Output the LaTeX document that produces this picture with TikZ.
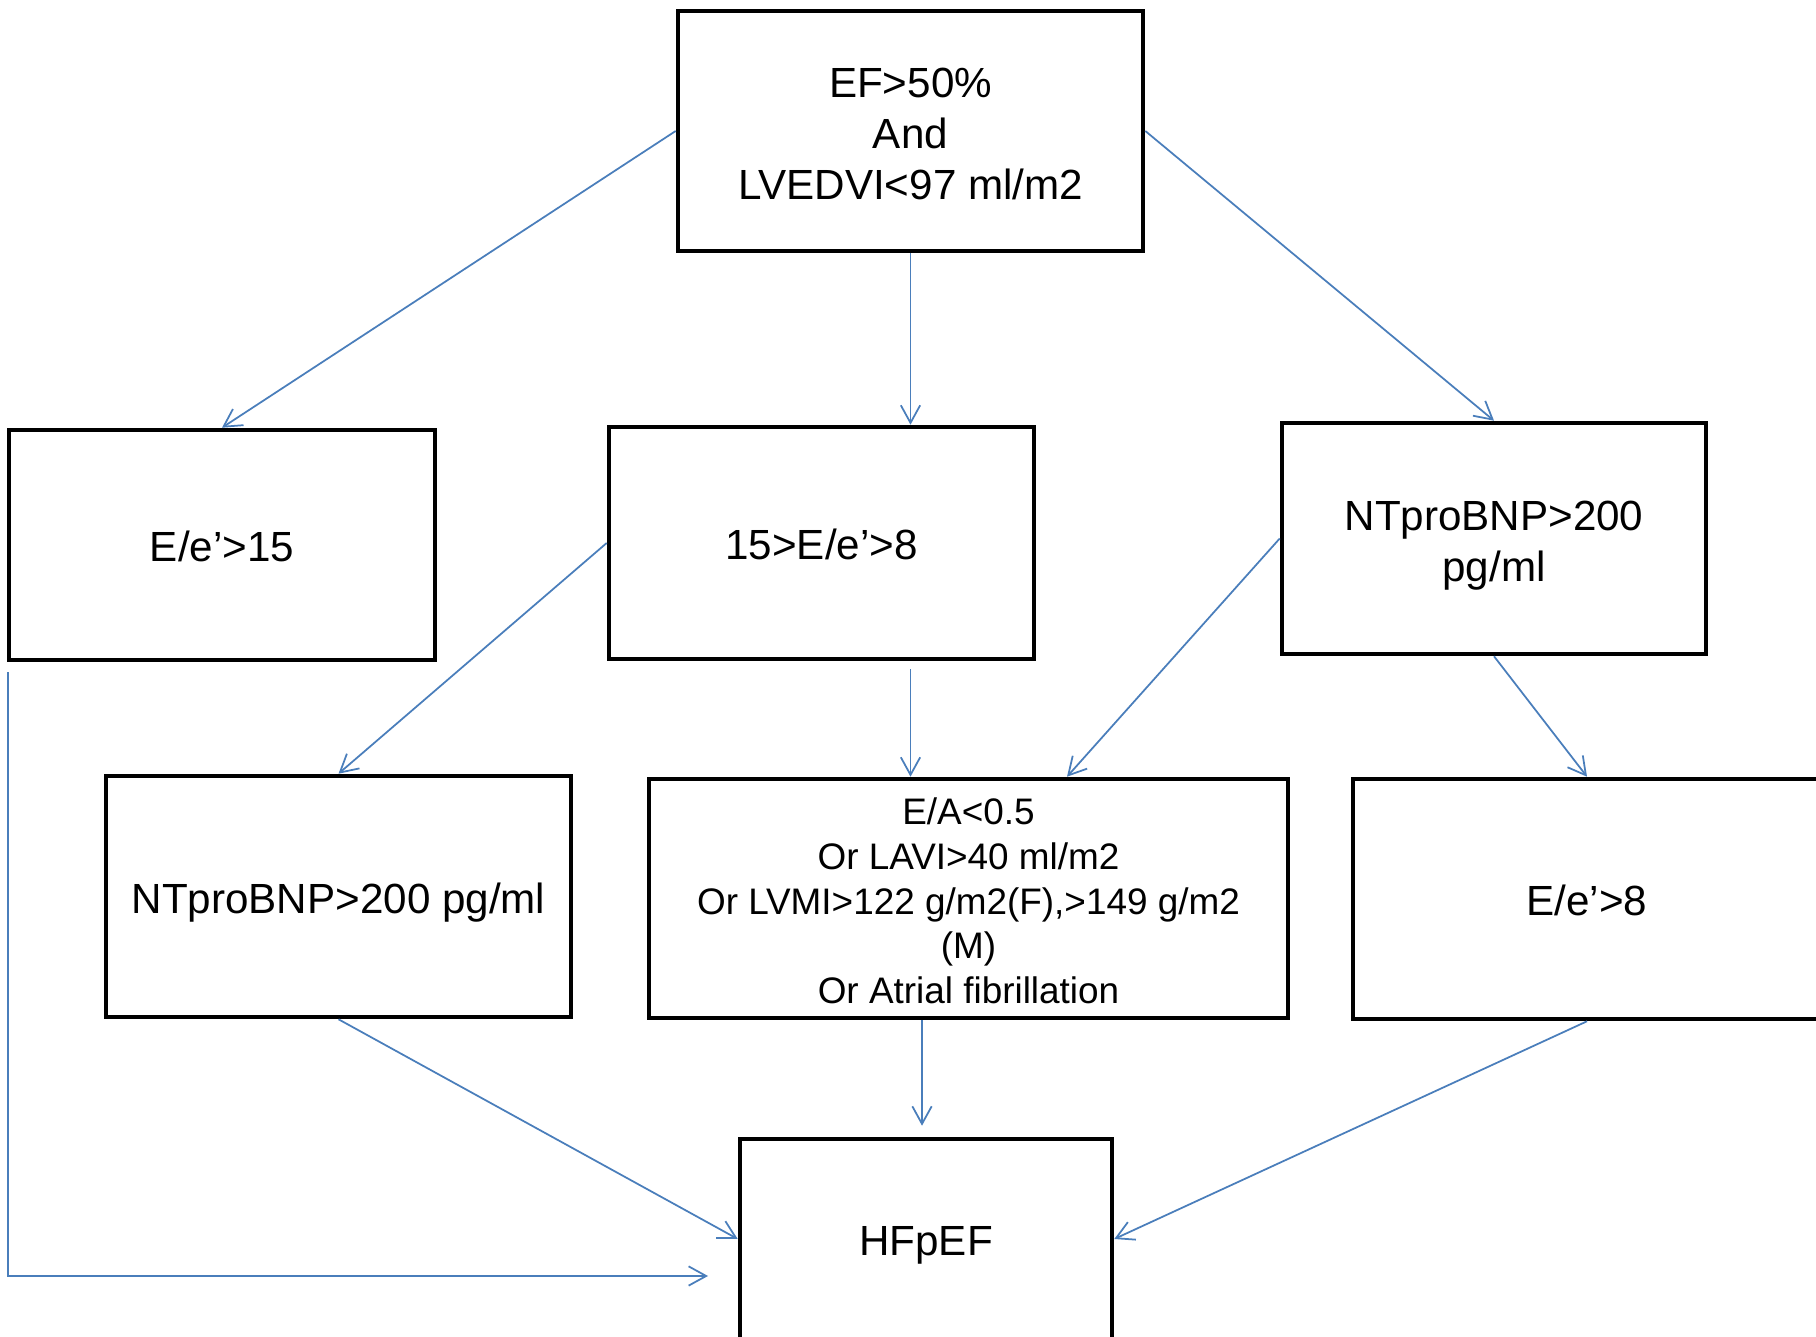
\documentclass[tikz,border=0pt]{standalone}
\usepackage{fontspec}
\setmainfont{Liberation Sans}
\usetikzlibrary{arrows.meta}
\definecolor{LinkBlue}{HTML}{4A7EBB}
\newcommand{\tallstrut}{\rule{0pt}{1.05em}}

\begin{document}
\begin{tikzpicture}[
  box/.style={draw,line width=1.3pt,align=center,inner sep=0pt,font=\fontsize{12}{14.5}\selectfont,
    execute at begin node=\rule{0pt}{1em},execute at end node=\rule[-.2em]{0pt}{0pt}},
  link/.style={LinkBlue,line width=.5pt,-{Straight Barb[length=5pt,width=5.5pt]}}]
\useasboundingbox (0,0) rectangle (18.16,13.37);
\node[box,minimum width=4.65cm,minimum height=2.4cm] (ef) at (9.105,12.06) {\tallstrut EF>50\%\\And\\LVEDVI<97 ml/m2};
\node[box,minimum width=4.26cm,minimum height=2.3cm] (e15) at (2.22,7.92) {E/e’>15};
\node[box,minimum width=4.25cm,minimum height=2.32cm] (mid) at (8.215,7.94) {15>E/e’>8};
\node[box,minimum width=4.24cm,minimum height=2.31cm] (ntr) at (14.94,7.985) {\tallstrut NTproBNP>200\\pg/ml};
\node[box,minimum width=4.65cm,minimum height=2.41cm] (ntl) at (3.385,4.405) {NTproBNP>200 pg/ml};
\node[box,minimum width=6.39cm,minimum height=2.39cm,font=\fontsize{10.5}{12.7}\selectfont] (ea) at (9.685,4.385)
  {\tallstrut E/A<0.5\\Or LAVI>40 ml/m2\\Or LVMI>122 g/m2(F),>149 g/m2\\(M)\\Or Atrial fibrillation};
\node[box,minimum width=4.68cm,minimum height=2.4cm] (e8) at (15.87,4.38) {E/e’>8};
\node[box,minimum width=3.72cm,minimum height=2cm] (hf) at (9.26,0.98) {HFpEF};
\coordinate (lend) at (7.08,0.61);
% connectors
\draw[link] (ef.west) -- (e15.north);
\draw[link] (ef.south) -- (ef.south |- mid.north);
\draw[link] (ef.east) -- (ntr.north);
\draw[link] (mid.west) -- (ntl.north);
\draw[link] (ef.south |- mid.south) ++(0,-.08) -- (ef.south |- ea.north);
\draw[link] (ntr.west) -- ([xshift=.985cm]ea.north);
\draw[link] (ntr.south) -- (e8.north);
\draw[link] (e15.south west) ++(.01,-.1) |- (lend);
\draw[link] (ntl.south) -- (hf.west);
\draw[link] (ea.south -| hf.north) ++(-.04,0) -- ([xshift=-.04cm,yshift=.11cm]hf.north);
\draw[link] (e8.south) -- (hf.east);
\end{tikzpicture}
\end{document}
